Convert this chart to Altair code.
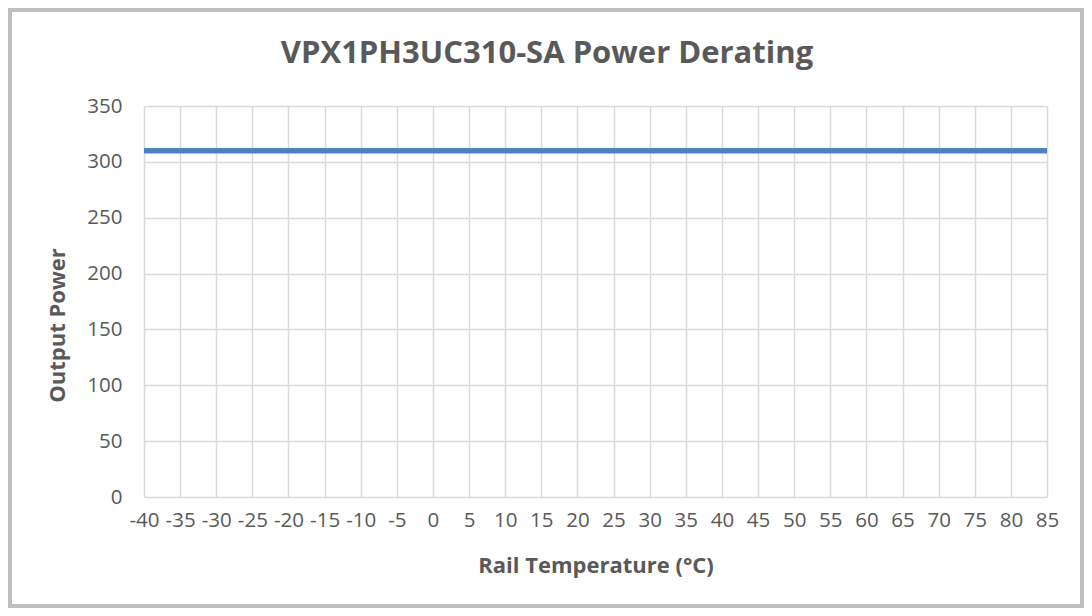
import altair as alt
import pandas as pd

temps = [-40, -35, -30, -25, -20, -15, -10, -5, 0, 5, 10, 15, 20, 25, 30, 35, 40, 45, 50, 55, 60, 65, 70, 75, 80, 85]
power = [310, 310, 310, 310, 310, 310, 310, 310, 310, 310, 310, 310, 310, 310, 310, 310, 310, 310, 310, 310, 310, 310, 310, 310, 310, 310]
y_ticks = [0, 50, 100, 150, 200, 250, 300, 350]
title_text = ["VPX1PH3UC310-SA Power Derating"]

df = pd.DataFrame({"temp": temps, "power": power})

TXT = "#595959"
FONT = "Open Sans"

line = alt.Chart(df).mark_line(color="#4F81BD", strokeWidth=5.5, strokeCap="butt").encode(
    x=alt.X("temp:Q",
            scale=alt.Scale(domain=[-40, 85], nice=False, zero=False),
            axis=alt.Axis(values=temps, title="Rail Temperature (°C)", labelFontSize=20.5,
                          labelExpr="datum.value + ''",
                          labelColor=TXT, labelFont=FONT, labelPadding=13, ticks=False, domain=False,
                          grid=True, gridColor="#d9d9d9", gridWidth=1.5, labelFlush=False,
                          titleFont=FONT, titleFontSize=22, titleFontWeight="bold", titleColor=TXT,
                          titleY=68, titleBaseline="middle")),
    y=alt.Y("power:Q",
            scale=alt.Scale(domain=[0, 350], nice=False),
            axis=alt.Axis(values=y_ticks, title="Output Power", labelFontSize=20.5, labelColor=TXT,
                          labelFont=FONT, labelPadding=22, ticks=False, domain=False,
                          grid=True, gridColor="#d9d9d9", gridWidth=1.5,
                          titleFont=FONT, titleFontSize=22, titleFontWeight="bold", titleColor=TXT,
                          titleX=-87, titleY=219, titleAngle=-90, titleBaseline="middle")),
)

border = alt.Chart(pd.DataFrame({"a": [0]})).mark_rect(
    fill=None, stroke="#bfbfbf", strokeWidth=4
).encode(x=alt.value(-134), x2=alt.value(938), y=alt.value(-96), y2=alt.value(500))

title = alt.Chart(pd.DataFrame({"t": title_text})).mark_text(
    font=FONT, fontSize=31, fontWeight="bold", color=TXT, align="center", baseline="alphabetic"
).encode(text="t:N", x=alt.value(403), y=alt.value(-43))

chart = alt.layer(border, line, title).properties(
    width=903, height=391,
    autosize=alt.AutoSizeParams(type="none"),
    padding={"left": 136, "top": 98, "right": 37, "bottom": 111},
    background="white",
).configure_view(stroke=None)

chart.save("out.html", embed_options={"renderer": "svg", "actions": False})
